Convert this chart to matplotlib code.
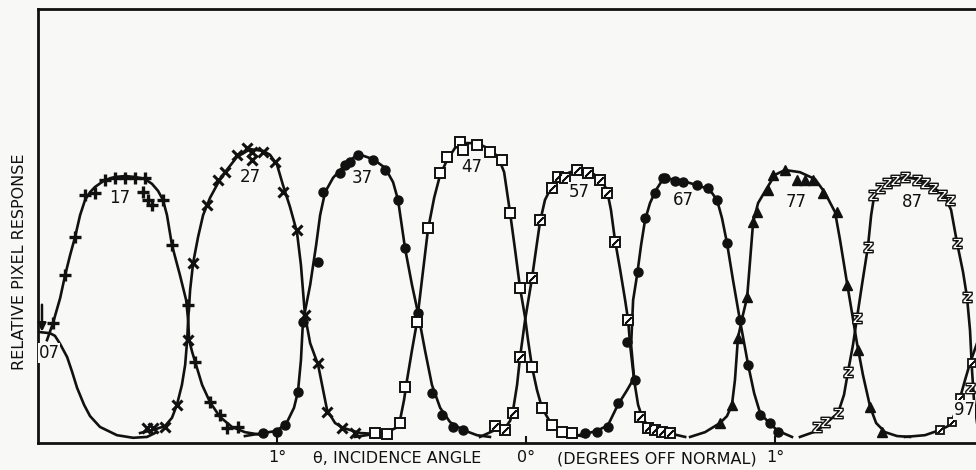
import matplotlib
matplotlib.use("Agg")
import matplotlib.pyplot as plt

# angle in degrees off normal, response relative to frame height
p07_x = [-1.960, -1.912, -1.892, -1.871, -1.843, -1.823, -1.803, -1.775, -1.751, -1.711, -1.643, -1.578, -1.522, -1.490]
p07_y = [0.256, 0.253, 0.247, 0.228, 0.198, 0.164, 0.127, 0.088, 0.062, 0.037, 0.018, 0.012, 0.014, 0.023]

p17_x = [-1.924, -1.900, -1.871, -1.851, -1.831, -1.811, -1.791, -1.771, -1.751, -1.731, -1.691, -1.651,
         -1.610, -1.570, -1.530, -1.502, -1.478, -1.458, -1.442, -1.422, -1.390, -1.365, -1.357, -1.353,
         -1.341, -1.329, -1.301, -1.269, -1.229, -1.181, -1.129, -1.056]
p17_y = [0.237, 0.276, 0.334, 0.387, 0.433, 0.475, 0.525, 0.560, 0.578, 0.590, 0.606, 0.613,
         0.615, 0.613, 0.608, 0.597, 0.581, 0.560, 0.525, 0.456, 0.387, 0.329, 0.283, 0.237,
         0.210, 0.187, 0.134, 0.094, 0.060, 0.037, 0.025, 0.018]
m17_x = [-1.900, -1.851, -1.811, -1.771, -1.731, -1.691, -1.651, -1.610, -1.570, -1.530, -1.538,
         -1.518, -1.502, -1.458, -1.422, -1.357, -1.329, -1.269, -1.229, -1.201, -1.157]
m17_y = [0.276, 0.387, 0.475, 0.571, 0.576, 0.606, 0.611, 0.611, 0.611, 0.611, 0.578,
         0.560, 0.548, 0.560, 0.456, 0.318, 0.187, 0.094, 0.065, 0.035, 0.037]

p27_x = [-1.550, -1.498, -1.450, -1.422, -1.402, -1.382, -1.369, -1.361, -1.357, -1.349, -1.337, -1.317,
         -1.297, -1.269, -1.237, -1.209, -1.161, -1.108, -1.056, -1.028, -1.000, -0.976, -0.948, -0.920,
         -0.904, -0.888, -0.867, -0.835, -0.815, -0.799, -0.767, -0.735, -0.667, -0.606]
p27_y = [0.023, 0.030, 0.039, 0.058, 0.088, 0.134, 0.180, 0.237, 0.283, 0.353, 0.415, 0.475,
         0.525, 0.565, 0.599, 0.624, 0.659, 0.677, 0.673, 0.664, 0.641, 0.594, 0.544, 0.486,
         0.410, 0.295, 0.230, 0.180, 0.122, 0.076, 0.046, 0.035, 0.023, 0.021]
m27_x = [-1.522, -1.498, -1.450, -1.402, -1.357, -1.337, -1.281, -1.237, -1.209, -1.161, -1.120, -1.100,
         -1.100, -1.056, -1.008, -0.976, -0.920, -0.888, -0.835, -0.799, -0.739, -0.687]
m27_y = [0.035, 0.035, 0.037, 0.088, 0.237, 0.415, 0.548, 0.606, 0.624, 0.664, 0.680, 0.671,
         0.652, 0.671, 0.647, 0.578, 0.491, 0.295, 0.184, 0.071, 0.035, 0.023]

p37_x = [-1.129, -1.056, -1.000, -0.960, -0.932, -0.916, -0.904, -0.896, -0.867, -0.843, -0.827, -0.807,
         -0.775, -0.727, -0.675, -0.614, -0.566, -0.534, -0.514, -0.486, -0.458, -0.434, -0.406, -0.378,
         -0.345, -0.305, -0.253, -0.197, -0.145]
p37_y = [0.016, 0.023, 0.028, 0.048, 0.081, 0.118, 0.191, 0.279, 0.364, 0.456, 0.525, 0.578,
         0.611, 0.641, 0.666, 0.654, 0.634, 0.601, 0.560, 0.449, 0.364, 0.300, 0.214, 0.134,
         0.081, 0.048, 0.030, 0.018, 0.014]
m37_x = [-1.056, -1.000, -0.968, -0.916, -0.896, -0.835, -0.815, -0.747, -0.727, -0.707, -0.675,
         -0.614, -0.566, -0.514, -0.486, -0.434, -0.378, -0.337, -0.293, -0.253]
m37_y = [0.023, 0.025, 0.041, 0.118, 0.279, 0.417, 0.578, 0.622, 0.641, 0.647, 0.664,
         0.652, 0.629, 0.560, 0.449, 0.300, 0.115, 0.065, 0.037, 0.030]

p47_x = [-0.687, -0.606, -0.558, -0.522, -0.506, -0.490, -0.478, -0.458, -0.438, -0.418, -0.394, -0.369,
         -0.345, -0.317, -0.285, -0.245, -0.197, -0.145, -0.112, -0.088, -0.064, -0.044, -0.024, -0.004,
         0.008, 0.024, 0.044, 0.064, 0.104, 0.145, 0.185, 0.237]
p47_y = [0.014, 0.021, 0.025, 0.035, 0.053, 0.099, 0.145, 0.214, 0.279, 0.376, 0.491, 0.565,
         0.618, 0.652, 0.680, 0.691, 0.691, 0.677, 0.659, 0.624, 0.530, 0.445, 0.357, 0.290,
         0.237, 0.175, 0.122, 0.081, 0.041, 0.025, 0.021, 0.014]
m47_x = [-0.606, -0.558, -0.506, -0.486, -0.438, -0.394, -0.345, -0.317, -0.265, -0.253, -0.197,
         -0.145, -0.096, -0.064, -0.024, 0.024, 0.064, 0.104, 0.145, 0.185]
m47_y = [0.023, 0.021, 0.046, 0.129, 0.279, 0.495, 0.622, 0.659, 0.694, 0.675, 0.687,
         0.671, 0.652, 0.530, 0.357, 0.175, 0.081, 0.041, 0.025, 0.023]

p57_x = [-0.185, -0.124, -0.084, -0.064, -0.052, -0.036, -0.024, -0.004, 0.024, 0.040, 0.056, 0.076,
         0.104, 0.137, 0.177, 0.217, 0.265, 0.301, 0.325, 0.341, 0.357, 0.378, 0.398, 0.410,
         0.418, 0.434, 0.450, 0.466, 0.490, 0.538, 0.586, 0.639]
p57_y = [0.014, 0.030, 0.035, 0.051, 0.076, 0.134, 0.198, 0.283, 0.380, 0.445, 0.509, 0.560,
         0.592, 0.613, 0.624, 0.629, 0.622, 0.608, 0.583, 0.537, 0.468, 0.399, 0.329, 0.283,
         0.226, 0.145, 0.088, 0.060, 0.039, 0.025, 0.021, 0.014]
m57_x = [-0.124, -0.084, -0.052, -0.024, 0.024, 0.056, 0.104, 0.129, 0.157, 0.205, 0.249, 0.297,
         0.325, 0.357, 0.410, 0.458, 0.490, 0.518, 0.546, 0.578]
m57_y = [0.039, 0.030, 0.069, 0.198, 0.380, 0.514, 0.588, 0.613, 0.611, 0.629, 0.622, 0.606,
         0.576, 0.463, 0.283, 0.060, 0.035, 0.030, 0.025, 0.023]

p67_x = [0.177, 0.237, 0.285, 0.329, 0.369, 0.406, 0.434, 0.422, 0.430, 0.446, 0.462, 0.478,
         0.498, 0.522, 0.550, 0.598, 0.647, 0.719, 0.747, 0.767, 0.787, 0.807, 0.831, 0.859,
         0.876, 0.892, 0.916, 0.940, 0.980, 1.012, 1.068]
p67_y = [0.014, 0.021, 0.028, 0.041, 0.088, 0.122, 0.150, 0.226, 0.329, 0.387, 0.456, 0.514,
         0.553, 0.583, 0.608, 0.608, 0.601, 0.588, 0.576, 0.560, 0.518, 0.461, 0.376, 0.283,
         0.230, 0.180, 0.115, 0.069, 0.044, 0.028, 0.014]
m67_x = [0.237, 0.285, 0.329, 0.369, 0.438, 0.406, 0.450, 0.478, 0.518, 0.550, 0.558, 0.598, 0.631,
         0.687, 0.731, 0.767, 0.807, 0.859, 0.892, 0.940, 0.980, 1.012]
m67_y = [0.023, 0.025, 0.037, 0.092, 0.145, 0.233, 0.394, 0.518, 0.576, 0.611, 0.611, 0.604, 0.601,
         0.594, 0.588, 0.560, 0.461, 0.283, 0.180, 0.065, 0.046, 0.025]

p77_x = [0.659, 0.719, 0.779, 0.807, 0.827, 0.839, 0.851, 0.871, 0.888, 0.900, 0.912, 0.932, 0.968,
         1.000, 1.040, 1.100, 1.161, 1.201, 1.241, 1.261, 1.289, 1.309, 1.329, 1.353, 1.382, 1.406,
         1.442, 1.490, 1.542]
p77_y = [0.014, 0.025, 0.046, 0.062, 0.088, 0.145, 0.242, 0.295, 0.336, 0.422, 0.509, 0.553, 0.588,
         0.618, 0.629, 0.624, 0.608, 0.576, 0.532, 0.468, 0.369, 0.300, 0.230, 0.157, 0.083, 0.046,
         0.025, 0.016, 0.014]
m77_x = [0.779, 0.827, 0.851, 0.888, 0.912, 0.928, 0.972, 0.992, 1.040, 1.088, 1.120, 1.153, 1.193,
         1.249, 1.289, 1.333, 1.382, 1.430]
m77_y = [0.046, 0.088, 0.242, 0.336, 0.509, 0.532, 0.583, 0.618, 0.629, 0.606, 0.606, 0.606, 0.576,
         0.532, 0.364, 0.214, 0.083, 0.025]

p87_x = [1.100, 1.169, 1.201, 1.253, 1.277, 1.293, 1.313, 1.329, 1.349, 1.373, 1.386, 1.398, 1.422,
         1.482, 1.522, 1.570, 1.635, 1.683, 1.707, 1.731, 1.755, 1.771, 1.783, 1.791, 1.799, 1.815, 1.843]
p87_y = [0.014, 0.028, 0.044, 0.069, 0.111, 0.164, 0.226, 0.288, 0.364, 0.452, 0.525, 0.569, 0.588,
         0.606, 0.613, 0.608, 0.590, 0.567, 0.537, 0.461, 0.394, 0.336, 0.260, 0.168, 0.099, 0.030, 0.014]
m87_x = [1.169, 1.201, 1.253, 1.293, 1.329, 1.373, 1.394, 1.422, 1.450, 1.482, 1.522, 1.570, 1.602,
         1.635, 1.671, 1.703, 1.731, 1.771, 1.783]
m87_y = [0.037, 0.048, 0.069, 0.164, 0.288, 0.452, 0.571, 0.588, 0.599, 0.606, 0.613, 0.606, 0.599,
         0.588, 0.571, 0.560, 0.461, 0.336, 0.127]

p97_x = [1.522, 1.602, 1.663, 1.695, 1.711, 1.731, 1.743, 1.763, 1.783, 1.823]
p97_y = [0.014, 0.018, 0.030, 0.039, 0.053, 0.081, 0.104, 0.145, 0.184, 0.249]
m97_x = [1.663, 1.711, 1.743, 1.791]
m97_y = [0.030, 0.048, 0.104, 0.184]

pixel_names = ["07", "17", "27", "37", "47", "57", "67", "77", "87", "97"]
name_x = [-1.916, -1.631, -1.108, -0.659, -0.217, 0.213, 0.631, 1.084, 1.550, 1.759]
name_y = [0.207, 0.565, 0.613, 0.611, 0.636, 0.578, 0.560, 0.555, 0.555, 0.076]

tick_pos = [-1, 0, 1]
tick_text = ["1°", "0°", "1°"]

BG = "#f8f8f6"
INK = "#111111"


def draw_curve(ax, lx, ly, mx=None, my=None, **mk):
    ax.plot(lx, ly, color=INK, lw=1.9, solid_joinstyle="round", zorder=2)
    if mx is not None:
        ax.plot(mx, my, ls="none", zorder=3, **mk)


def main():
    fig = plt.figure(figsize=(9.76, 4.70), dpi=100, facecolor=BG)
    ax = fig.add_axes([38 / 976, 1 - 443 / 470, 1.0, 434 / 470])
    ax.set_facecolor(BG)
    ax.set_xlim(-1.960, -1.960 + 976 / 249)
    ax.set_ylim(0, 1)

    for side in ["left", "top", "bottom"]:
        ax.spines[side].set_linewidth(2.0)
        ax.spines[side].set_color(INK)
    ax.spines["right"].set_visible(False)

    draw_curve(ax, p07_x, p07_y)
    draw_curve(ax, p17_x, p17_y, m17_x, m17_y, marker="+", ms=8.5, mew=2.4, color=INK)
    draw_curve(ax, p27_x, p27_y, m27_x, m27_y, marker="x", ms=6.5, mew=2.2, color=INK)
    draw_curve(ax, p37_x, p37_y, m37_x, m37_y, marker="o", ms=6.5, color=INK)
    draw_curve(ax, p47_x, p47_y, m47_x, m47_y, marker="s", ms=7, mfc="white", mec=INK, mew=1.4)
    draw_curve(ax, p57_x, p57_y, m57_x, m57_y, marker="s", ms=7, mfc="white", mec=INK, mew=1.4)
    ax.plot(m57_x, m57_y, ls="none", marker=(2, 2, -45), ms=6.5, mew=1.3, color=INK, zorder=4)
    draw_curve(ax, p67_x, p67_y, m67_x, m67_y, marker="o", ms=6.5, color=INK)
    draw_curve(ax, p77_x, p77_y, m77_x, m77_y, marker="^", ms=7.5, color=INK)
    draw_curve(ax, p87_x, p87_y, m87_x, m87_y, marker=r"$\mathbf{z}$", ms=7.5, color=INK, mfc=BG)
    draw_curve(ax, p97_x, p97_y, m97_x, m97_y, marker="s", ms=6, mfc="white", mec=INK, mew=1.3)
    ax.plot(m97_x, m97_y, ls="none", marker=(2, 2, -45), ms=5.5, mew=1.1, color=INK, zorder=4)

    for name, x, y in zip(pixel_names, name_x, name_y):
        ax.text(x, y, name, ha="center", va="center", fontsize=12, color=INK,
                bbox=dict(facecolor=BG, edgecolor="none", pad=0.5), zorder=5)

    ax.annotate("", xy=(-1.944, 0.250), xytext=(-1.944, 0.325),
                arrowprops=dict(arrowstyle="-|>", color=INK, lw=1.8, mutation_scale=12))

    ax.set_yticks([])
    ax.set_xticks(tick_pos)
    ax.set_xticklabels(tick_text, fontsize=11.5, color=INK)
    ax.tick_params(axis="x", direction="in", length=5, width=1.5, pad=5, color=INK)

    ax.annotate("θ, INCIDENCE ANGLE", xy=(-0.518, -0.036), xycoords=("data", "axes fraction"),
                ha="center", va="center", fontsize=11.5, color=INK, annotation_clip=False)
    ax.annotate("(DEGREES OFF NORMAL)", xy=(0.526, -0.036), xycoords=("data", "axes fraction"),
                ha="center", va="center", fontsize=11.5, color=INK, annotation_clip=False)

    fig.text(20 / 976, 1 - 262 / 470, "RELATIVE PIXEL RESPONSE", rotation=90,
             ha="center", va="center", fontsize=11.5, color=INK)

    fig.savefig("out.png", dpi=100, facecolor=BG)


if __name__ == "__main__":
    main()
